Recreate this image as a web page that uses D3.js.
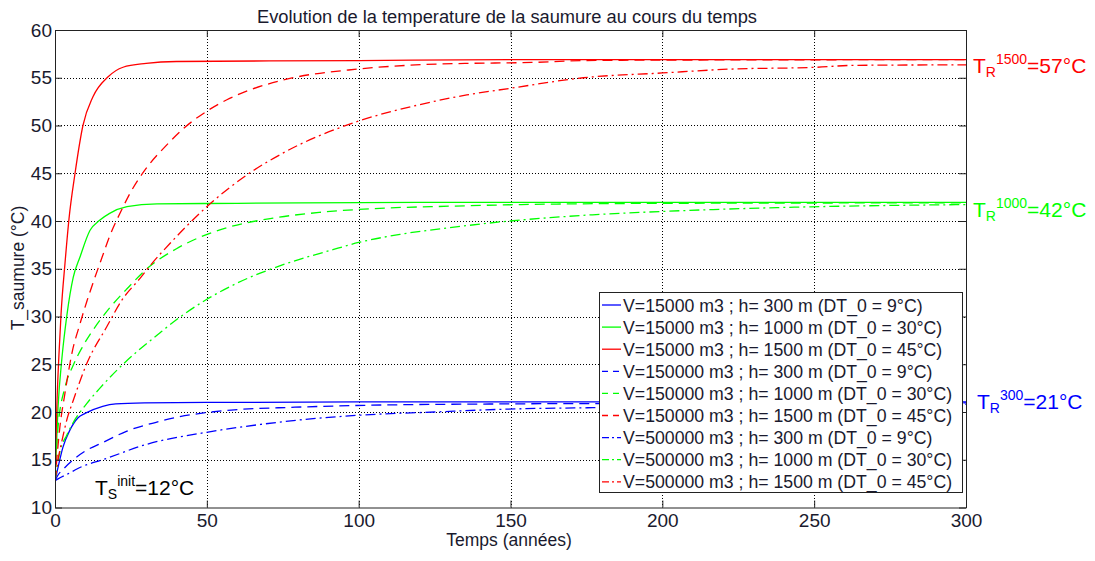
<!DOCTYPE html>
<html><head><meta charset="utf-8">
<script src="https://cdn.jsdelivr.net/npm/d3@7"></script>
<style>
body{margin:0;background:#fff}
text{font-family:Arial,"Liberation Sans",sans-serif}
</style>
</head><body>
<svg id="c" width="1095" height="561"></svg>
<script>
// ---------- data ----------
const xTicks = [0, 50, 100, 150, 200, 250, 300];
const yTicks = [10, 15, 20, 25, 30, 35, 40, 45, 50, 55, 60];

const legendLabels = [
  "V=15000 m3 ; h= 300 m (DT_0 = 9°C)",
  "V=15000 m3 ; h= 1000 m (DT_0 = 30°C)",
  "V=15000 m3 ; h= 1500 m (DT_0 = 45°C)",
  "V=150000 m3 ; h= 300 m (DT_0 = 9°C)",
  "V=150000 m3 ; h= 1000 m (DT_0 = 30°C)",
  "V=150000 m3 ; h= 1500 m (DT_0 = 45°C)",
  "V=500000 m3 ; h= 300 m (DT_0 = 9°C)",
  "V=500000 m3 ; h= 1000 m (DT_0 = 30°C)",
  "V=500000 m3 ; h= 1500 m (DT_0 = 45°C)"
];
const seriesColors = ["blue","green","red","blue","green","red","blue","green","red"];
const seriesStyles = ["solid","solid","solid","dash","dash","dash","dashdot","dashdot","dashdot"];

// V=15000, h=300
const t1 = [0, 1, 2.6, 4.9, 7.6, 9.9, 15.7, 20, 29.5, 50, 100, 300];
const v1 = [12.8, 14.2, 16.3, 18.1, 19.4, 19.85, 20.6, 20.85, 20.95, 21.0, 21.05, 21.05];
// V=15000, h=1000
const t2 = [0, 1, 2.3, 3.9, 6, 8.2, 11.5, 14.8, 18, 23.7, 33.6, 60, 120, 300];
const v2 = [12.8, 20.5, 25.7, 30.1, 34.1, 36.2, 39, 40.1, 40.8, 41.5, 41.8, 41.85, 41.95, 41.95];
// V=15000, h=1500
const t3 = [0, 0.6, 1.3, 2, 3.3, 4.6, 6.6, 9.2, 12.5, 17.5, 22.4, 30, 40, 100, 150, 300];
const v3 = [12.8, 20.5, 26, 30.3, 35.6, 40.2, 45, 50, 53, 55.1, 56.1, 56.5, 56.7, 56.8, 56.9, 56.9];
// V=150000, h=300
const t4 = [0, 1, 3, 6, 9.9, 15.7, 23.7, 33, 41, 49, 58, 79, 102, 150, 200, 300];
const v4 = [12.8, 13.4, 14.1, 15.0, 15.9, 16.8, 18, 18.9, 19.5, 19.9, 20.2, 20.5, 20.7, 20.85, 20.9, 20.95];
// V=150000, h=1000
const t5 = [0, 1, 3.3, 6, 9.2, 14.8, 18, 23.7, 31, 40, 47.7, 56.6, 71.8, 87, 105, 130, 150, 200, 300];
const v5 = [12.8, 18.4, 22.6, 24.9, 26.9, 29.6, 30.9, 32.9, 35.2, 37.1, 38.3, 39.3, 40.3, 40.9, 41.3, 41.55, 41.7, 41.85, 41.9];
// V=150000, h=1500
const t6 = [0, 1.6, 3.3, 5.6, 8.2, 10.5, 12.5, 15.5, 18, 22, 24.7, 30, 36.9, 42, 50, 56.6, 64, 77, 99.4, 116, 135, 157, 175, 200, 300];
const v6 = [12.8, 18.4, 22, 26.2, 29.2, 31.6, 33.5, 36.2, 38.4, 41.2, 42.9, 45.5, 48, 49.6, 51.5, 52.7, 53.7, 54.9, 55.9, 56.3, 56.5, 56.6, 56.8, 56.85, 56.9];
// V=500000, h=300
const t7 = [0, 1, 4.1, 9, 15.7, 30, 50.4, 67.7, 85, 102, 125, 148.5, 177, 220, 260, 300];
const v7 = [12.8, 13.0, 13.5, 14.3, 15.0, 16.6, 17.9, 18.7, 19.3, 19.7, 20.0, 20.3, 20.45, 20.6, 20.7, 20.8];
// V=500000, h=1000
const t8 = [0, 1.6, 3.9, 6, 10.5, 14.8, 22.4, 34.6, 41, 50, 60, 74, 91.5, 100, 113.6, 130, 146.5, 163, 177, 200, 216.7, 244, 294, 300];
const v8 = [12.8, 15.8, 17.6, 18.9, 20.9, 22.5, 25.0, 28.3, 29.9, 31.8, 33.5, 35.3, 37.0, 37.75, 38.6, 39.3, 39.9, 40.35, 40.65, 41.0, 41.2, 41.45, 41.7, 41.72];
// V=500000, h=1500
const t9 = [0, 1, 2.3, 4, 6, 10.5, 17, 22, 28, 31, 38.9, 50, 64, 75, 99.4, 119, 135.6, 150, 174, 200, 222, 251, 263, 300];
const v9 = [12.8, 15, 17, 19.3, 21.2, 25.1, 28.9, 31.7, 34, 35.2, 38, 41.5, 45, 47.1, 50.4, 52.1, 53.2, 53.9, 55, 55.5, 55.9, 56.1, 56.3, 56.35];

const seriesT = [t1, t2, t3, t4, t5, t6, t7, t8, t9];
const seriesV = [v1, v2, v3, v4, v5, v6, v7, v8, v9];

const title = "Evolution de la temperature de la saumure au cours du temps";
const xLabel = "Temps (années)";
const yLabel = "T_saumure (°C)";

// ---------- drawing ----------
const colorMap = {blue: "#0000ff", green: "#00ff00", red: "#ff0000"};
const dashMap = {solid: null, dash: "10,6", dashdot: "10,4,2,4"};

const svg = d3.select("#c");
const L = 55, R = 966, T = 30, B = 507.5;
const x = d3.scaleLinear().domain([0, 300]).range([L, R]);
const y = d3.scaleLinear().domain([10, 60]).range([B, T]);

svg.append("rect").attr("width", 1095).attr("height", 561).attr("fill", "#fff");

// grid
const grid = svg.append("g").attr("stroke", "#000").attr("stroke-width", 1).attr("stroke-dasharray", "1,2");
xTicks.slice(1, -1).forEach(v => grid.append("line").attr("x1", Math.round(x(v)) + 0.5).attr("x2", Math.round(x(v)) + 0.5).attr("y1", T).attr("y2", B));
yTicks.slice(1, -1).forEach(v => grid.append("line").attr("y1", Math.round(y(v)) + 0.5).attr("y2", Math.round(y(v)) + 0.5).attr("x1", L).attr("x2", R));

svg.append("clipPath").attr("id", "pc").append("rect").attr("x", L).attr("y", T).attr("width", R - L).attr("height", B - T);

const line = d3.line().x(d => x(d[0])).y(d => y(d[1])).curve(d3.curveMonotoneX);
const curves = svg.append("g").attr("clip-path", "url(#pc)");
seriesT.forEach((ts, i) => {
  const pts = ts.map((t, j) => [t, seriesV[i][j]]);
  curves.append("path").datum(pts).attr("d", line)
    .attr("fill", "none").attr("stroke", colorMap[seriesColors[i]]).attr("stroke-width", 1.3)
    .attr("stroke-dasharray", dashMap[seriesStyles[i]]);
});

// axes (frame + inward ticks)
const axG = svg.append("g");
const bottomAxis = d3.axisBottom(x).tickValues(xTicks).tickSizeInner(-7).tickSizeOuter(0).tickPadding(6);
const topAxis = d3.axisTop(x).tickValues(xTicks).tickSizeInner(-7).tickSizeOuter(0).tickFormat("");
const leftAxis = d3.axisLeft(y).tickValues(yTicks).tickSizeInner(-7).tickSizeOuter(0).tickPadding(3);
const rightAxis = d3.axisRight(y).tickValues(yTicks).tickSizeInner(-7).tickSizeOuter(0).tickFormat("");
[[bottomAxis, `translate(0,${B})`], [topAxis, `translate(0,${T})`], [leftAxis, `translate(${L},0)`], [rightAxis, `translate(${R},0)`]].forEach(([a, tr]) => {
  const g = axG.append("g").attr("transform", tr).call(a);
  g.selectAll("path").attr("stroke", "#222");
  g.selectAll("line").attr("stroke", "#222");
  g.selectAll("text").attr("font-size", 19).attr("fill", "#1a1a2e").attr("font-family", "Arial, 'Liberation Sans', sans-serif");
});

// legend
const lg = svg.append("g");
const lgX = 599, lgY = 292.5, lgW = 363, lgH = 200;
lg.append("rect").attr("x", lgX + 0.5).attr("y", lgY).attr("width", lgW).attr("height", lgH).attr("fill", "#fff").attr("stroke", "#222").attr("stroke-width", 1);
legendLabels.forEach((lab, i) => {
  const cy = 305 + i * 22.1;
  lg.append("line").attr("x1", 602).attr("x2", 621).attr("y1", cy).attr("y2", cy)
    .attr("stroke", colorMap[seriesColors[i]]).attr("stroke-width", 1.3)
    .attr("stroke-dasharray", seriesStyles[i] === "dash" ? "6,5" : seriesStyles[i] === "dashdot" ? "7,3,2,3" : null);
  lg.append("text").attr("x", 623).attr("y", cy + 6.5).attr("font-size", 17.7).attr("fill", "#1a1a2e").text(lab);
});

// title and axis labels
svg.append("text").attr("x", 507).attr("y", 23).attr("text-anchor", "middle").attr("font-size", 18.3).attr("fill", "#1a1a2e").text(title);
svg.append("text").attr("x", 509).attr("y", 546).attr("text-anchor", "middle").attr("font-size", 17.5).attr("fill", "#1a1a2e").text(xLabel);
svg.append("text").attr("transform", "translate(24,268) rotate(-90)").attr("text-anchor", "middle").attr("font-size", 17.5).attr("fill", "#1a1a2e").text(yLabel);

// annotations
function annot(xp, yb, main, sub, sup, rest, color) {
  const t = svg.append("text").attr("x", xp).attr("y", yb).attr("fill", color).attr("font-size", 21);
  t.append("tspan").text(main);
  t.append("tspan").attr("font-size", 14).attr("dy", 4).text(sub);
  t.append("tspan").attr("font-size", 14).attr("dy", -13).text(sup);
  t.append("tspan").attr("dy", 9).text(rest);
}
annot(973, y(57) + 14.5, "T", "R", "1500", "=57°C", "#ff0000");
annot(973, y(42) + 15, "T", "R", "1000", "=42°C", "#00ff00");
annot(977, y(21) + 6.5, "T", "R", "300", "=21°C", "#0000ff");
annot(95, 495, "T", "S", "init", "=12°C", "#000");
</script>
</body></html>
